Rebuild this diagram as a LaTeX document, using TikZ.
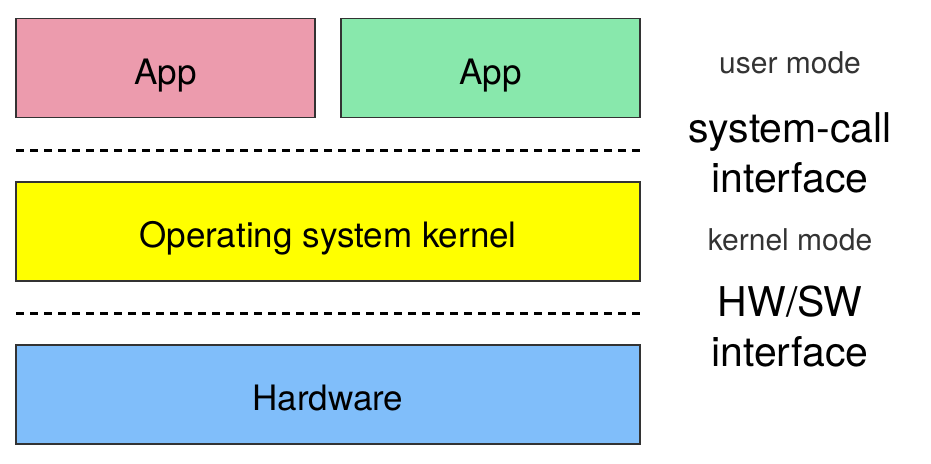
\documentclass[tikz,border=0pt]{standalone}
\usepackage{fontspec}
\setmainfont{TeX Gyre Heros}
\definecolor{apppink}{HTML}{EC9BAD}
\definecolor{appgreen}{HTML}{88E8AC}
\definecolor{osyellow}{HTML}{FFFF00}
\definecolor{hwblue}{HTML}{80BEFA}
\definecolor{edge}{HTML}{333333}
\begin{document}
\begin{tikzpicture}[x=1pt,y=-1pt,
  layer/.style={draw=edge, line width=1.4pt, inner sep=0pt, minimum height=99pt,
    text height=32pt, text depth=0pt,
    font=\fontsize{35}{40}\selectfont},
  sep/.style={line width=3pt, dash pattern=on 8pt off 6pt},
  modelabel/.style={font=\fontsize{30}{34}\selectfont, text=black!80},
  ifacelabel/.style={font=\fontsize{41}{50}\selectfont, align=center}]
\useasboundingbox (0,0) rectangle (931,463);
\node[layer, fill=apppink, minimum width=299pt] (app1) at (165.5,68) {App};
\node[layer, fill=appgreen, minimum width=299pt] (app2) at (490.5,68) {App};
\node[layer, fill=osyellow, minimum width=624pt] (os) at (328,231.5) {Operating system kernel};
\node[layer, fill=hwblue, minimum width=624pt] (hw) at (328,394.5) {Hardware};
\coordinate (d1a) at (16,150); \coordinate (d1b) at (642,150);
\coordinate (d2a) at (16,313); \coordinate (d2b) at (642,313);
\draw[sep] (d1a) -- (d1b);
\draw[sep] (d2a) -- (d2b);
\node[modelabel] (user) at (790,63) {user mode};
\node[ifacelabel] (sci) at (790,153) {system-call\\interface};
\node[modelabel] (kern) at (790,240) {kernel mode};
\node[ifacelabel] (hwsw) at (790,326) {HW/SW\\interface};
\end{tikzpicture}
\end{document}
